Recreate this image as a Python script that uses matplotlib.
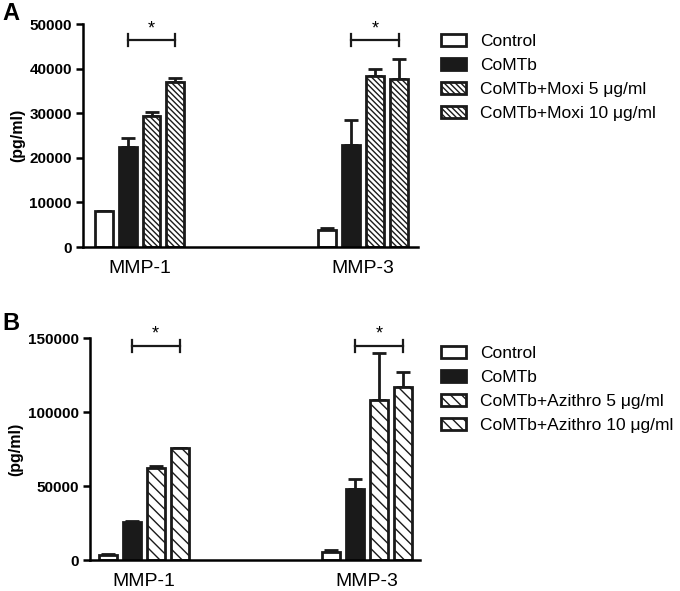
import matplotlib
matplotlib.use("Agg")
import matplotlib.pyplot as plt
from matplotlib.patches import Patch
import numpy as np

plt.rcParams['font.family'] = ['Liberation Sans', 'DejaVu Sans']
plt.rcParams['hatch.linewidth'] = 1.0

# data
groups = ["MMP-1", "MMP-3"]

labels_a = ["Control", "CoMTb", "CoMTb+Moxi 5 μg/ml", "CoMTb+Moxi 10 μg/ml"]
means_a = [[8000, 22500, 29300, 37000],
           [3800, 22800, 38300, 37800]]
errs_a = [[150, 2000, 1000, 900],
          [400, 5700, 1700, 4500]]
sig_a = 46400

labels_b = ["Control", "CoMTb", "CoMTb+Azithro 5 μg/ml", "CoMTb+Azithro 10 μg/ml"]
means_b = [[3800, 26000, 62000, 75500],
           [5500, 48000, 108000, 117000]]
errs_b = [[300, 700, 1300, 500],
          [1500, 7000, 32000, 10000]]
sig_b = 144800


def draw_panel(ax, means, errs, labels, hatch, ymax, yticks, sig_y, sig_gap):
    step = 0.107
    width = 0.08
    styles = [dict(color="white"), dict(color="#1a1a1a"),
              dict(color="white", hatch=hatch), dict(color="white", hatch=hatch)]
    handles = []
    for i in range(4):
        xs = np.arange(len(groups)) + (i - 1.5) * step
        vals = [m[i] for m in means]
        ers = [e[i] for e in errs]
        ax.bar(xs, vals, width, edgecolor="#1a1a1a", linewidth=2, zorder=2, **styles[i])
        ax.errorbar(xs, vals, yerr=[np.zeros(len(ers)), ers], fmt="none",
                    ecolor="#1a1a1a", elinewidth=2, capsize=5, capthick=2, zorder=1)
        handles.append(Patch(facecolor=styles[i]["color"], hatch=styles[i].get("hatch"),
                             edgecolor="#1a1a1a", linewidth=2, label=labels[i]))
    # significance brackets between CoMTb and highest dose
    for g in range(len(groups)):
        x1 = g + (1 - 1.5) * step
        x2 = g + (3 - 1.5) * step
        ax.plot([x1, x2], [sig_y, sig_y], color="#1a1a1a", lw=1.6)
        ax.plot([x1, x1], [sig_y - sig_gap, sig_y + sig_gap], color="#1a1a1a", lw=1.6)
        ax.plot([x2, x2], [sig_y - sig_gap, sig_y + sig_gap], color="#1a1a1a", lw=1.6)
        ax.text((x1 + x2) / 2, sig_y + sig_gap * 0.5, "*", ha="center", va="bottom",
                fontsize=13)
    ax.set_ylim(0, ymax)
    ax.set_yticks(yticks)
    ax.set_xticks(range(len(groups)))
    ax.set_xticklabels(groups, fontsize=14)
    ax.set_ylabel("(pg/ml)", fontsize=11.5, fontweight="bold", labelpad=3)
    for lab in ax.get_yticklabels():
        lab.set_fontweight("bold")
        lab.set_fontsize(11)
    ax.spines["top"].set_visible(False)
    ax.spines["right"].set_visible(False)
    ax.spines["left"].set_linewidth(1.8)
    ax.spines["bottom"].set_linewidth(1.8)
    ax.tick_params(axis="y", width=1.8, length=5, pad=3)
    ax.tick_params(axis="x", length=0, pad=9)
    return handles


fig = plt.figure(figsize=(6.8, 5.91), dpi=100)

ax_a = fig.add_axes([0.122, 0.582, 0.493, 0.377])
ax_a.set_xlim(-0.253, 1.246)
h_a = draw_panel(ax_a, means_a, errs_a, labels_a, "\\" * 6, 50000,
                 [0, 10000, 20000, 30000, 40000, 50000], sig_a, 1300)

ax_b = fig.add_axes([0.132, 0.052, 0.486, 0.376])
ax_b.set_xlim(-0.242, 1.239)
h_b = draw_panel(ax_b, means_b, errs_b, labels_b, "\\" * 3, 150000,
                 [0, 50000, 100000, 150000], sig_b, 4000)

leg_kw = dict(loc="upper left", frameon=False, fontsize=12.5, handlelength=1.45,
              handleheight=0.7, labelspacing=0.51, handletextpad=0.8)
fig.legend(handles=h_a, bbox_to_anchor=(0.625, 0.969), **leg_kw)
fig.legend(handles=h_b, bbox_to_anchor=(0.625, 0.441), **leg_kw)

fig.text(0.004, 0.978, "A", fontsize=17, fontweight="bold", va="center")
fig.text(0.004, 0.452, "B", fontsize=17, fontweight="bold", va="center")

fig.savefig("out.png", dpi=100)
